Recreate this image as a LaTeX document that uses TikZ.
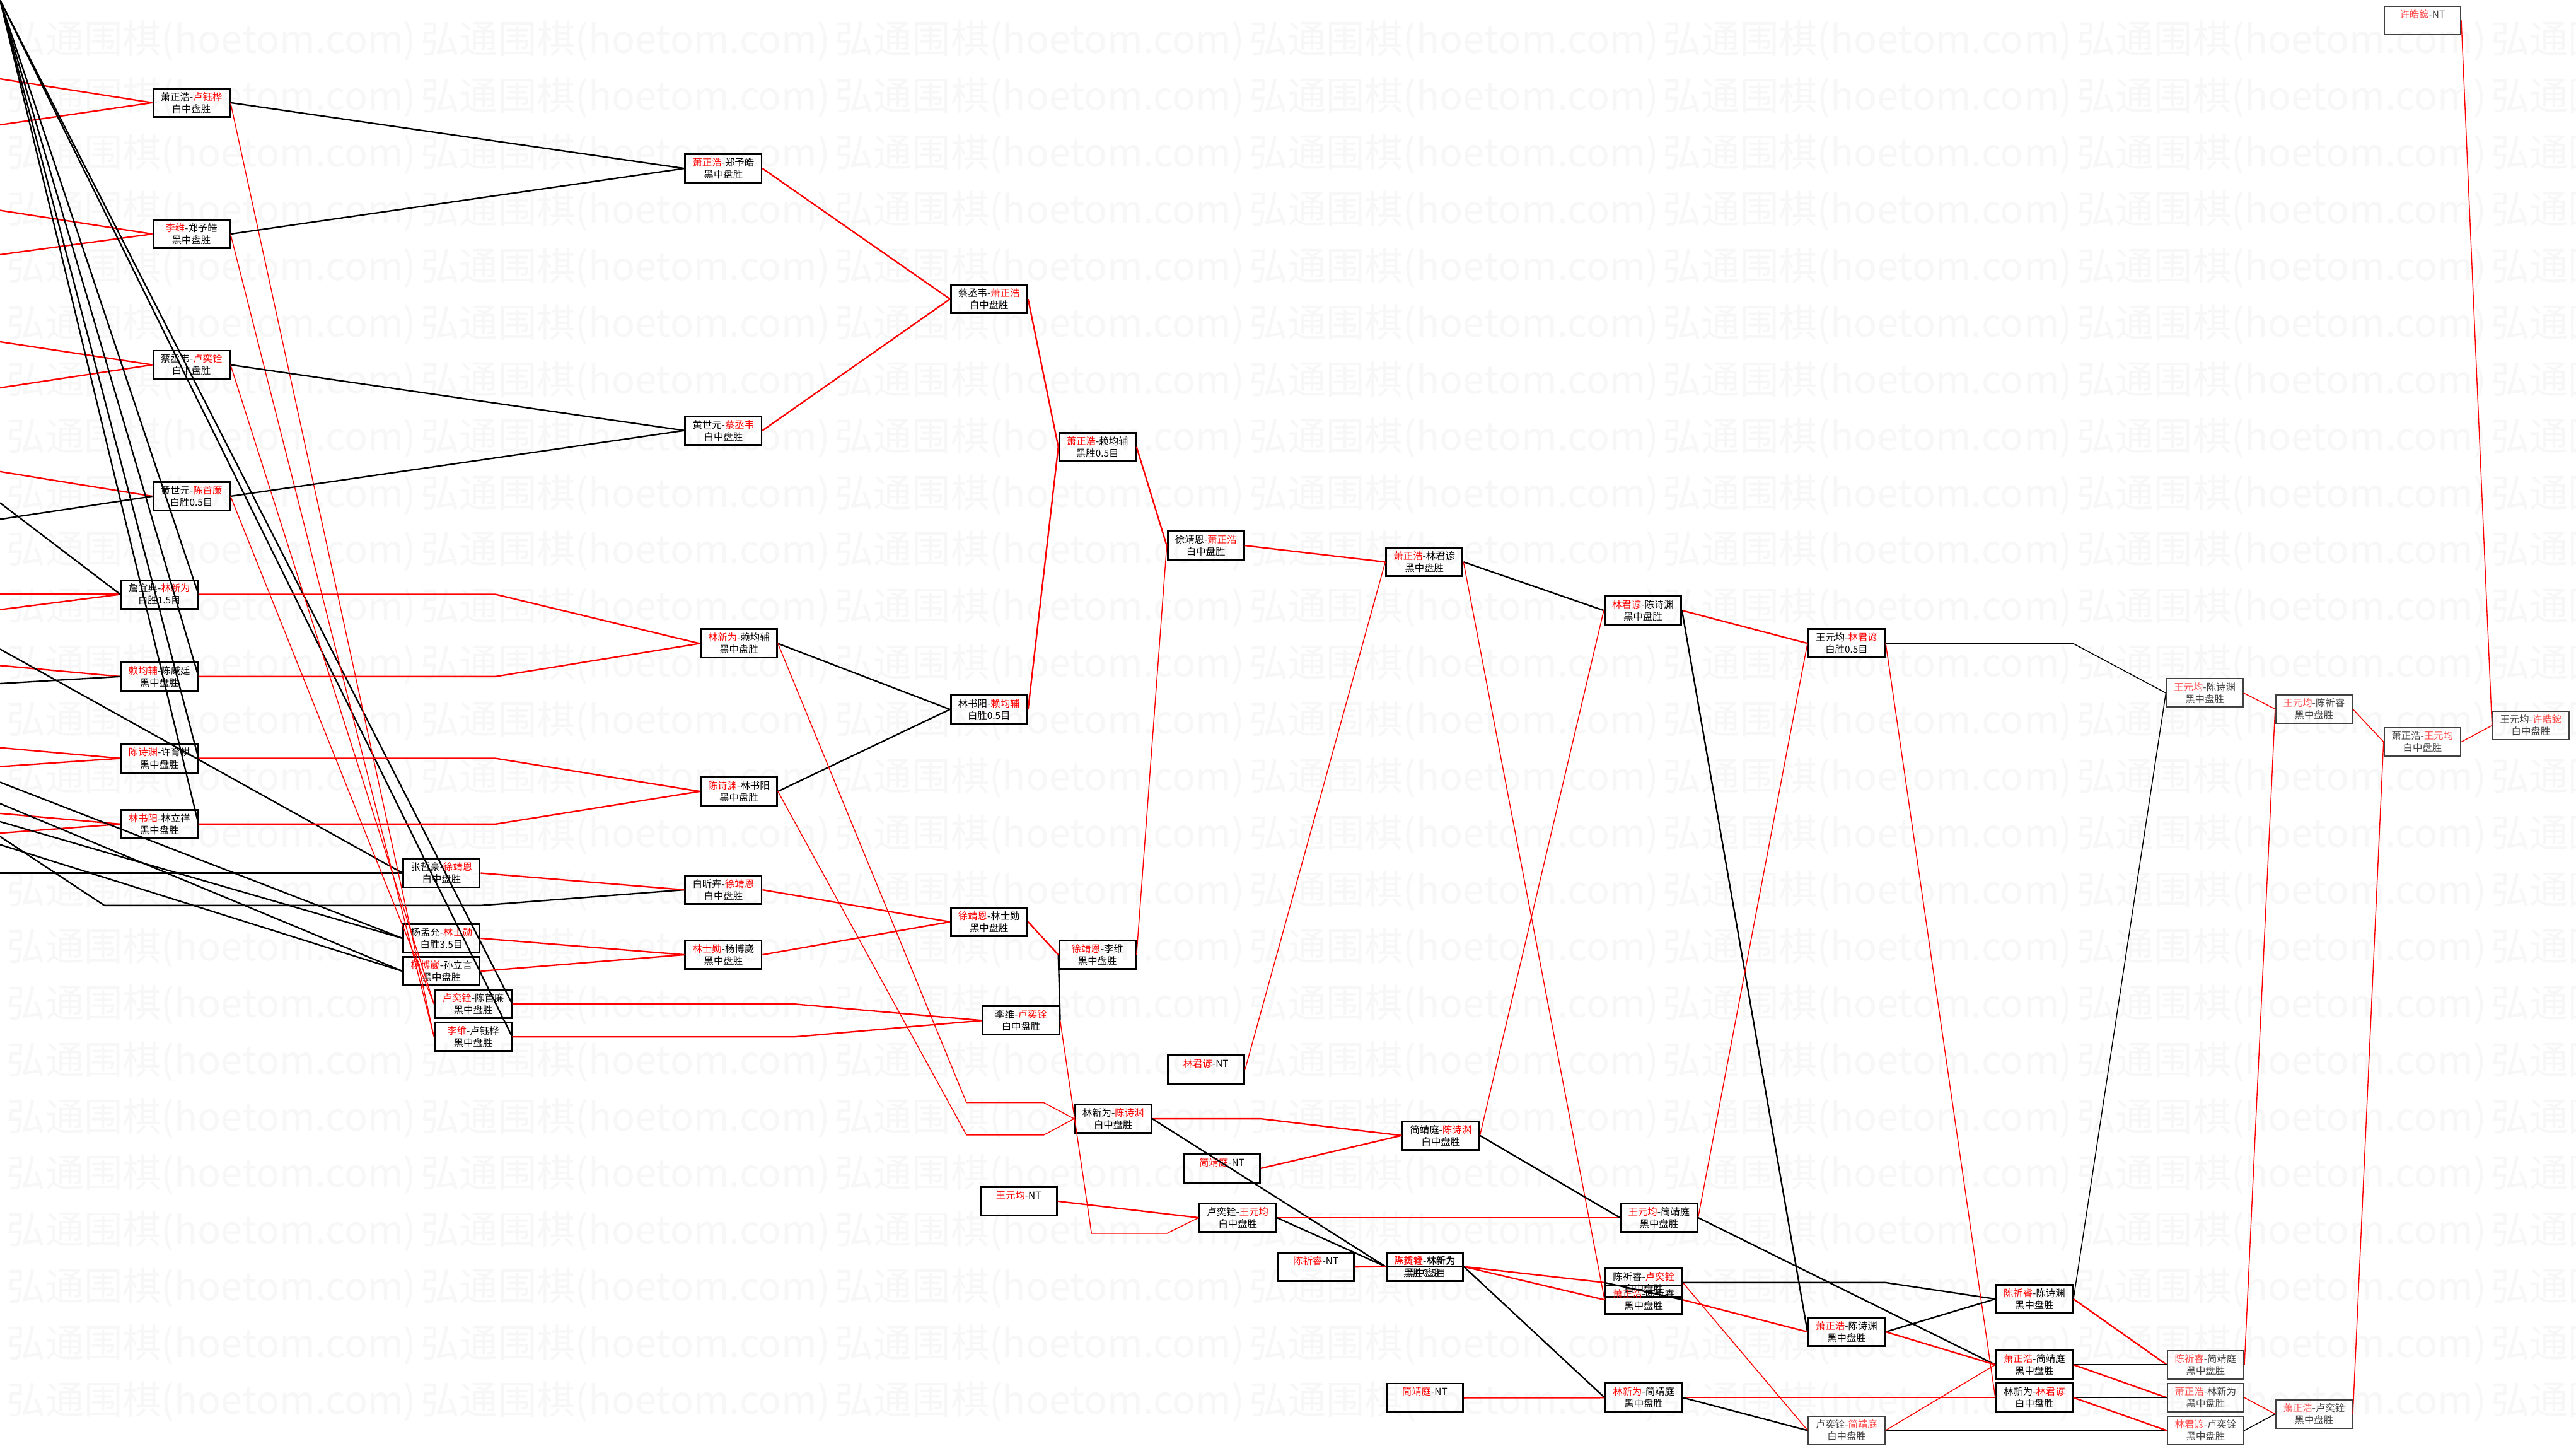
\documentclass[tikz,border=0pt]{standalone}
\usepackage{fontspec}
\newfontfamily\cjk{Noto Sans CJK SC}
\newcommand\rn[1]{\textcolor{red}{#1}}
\newcommand\rl[1]{\textcolor{red!70}{#1}}
\tikzset{
  mbox/.style={draw=black, line width=1.1pt, minimum width=46.5pt, minimum height=17.3pt,
    inner sep=0pt, align=center, font=\cjk\fontsize{5.9}{7.3}\selectfont},
  lbox/.style={mbox, draw=black!75, line width=0.8pt, text=black!75},
  wl/.style={draw=red, line width=0.9pt},
  ll/.style={draw=black, line width=0.9pt},
  tl/.style={line width=0.55pt},
  wm/.style={anchor=west, inner sep=0pt, text=black!3, font=\cjk\fontsize{23.5}{24}\selectfont},
}
\begin{document}
\begin{tikzpicture}[x=1pt,y=-1pt]
\useasboundingbox (0,0) rectangle (1568,883);
\clip (0,0) rectangle (1568,883);
\fill[white] (0,0) rectangle (1568,883);
% watermark
\foreach \i in {0,...,6}{\foreach \j in {0,...,24}{
  \node[wm] (wm-\i-\j) at ({4+252*\i},{25+34.5*\j}) {弘通围棋(hoetom.com)};}}
% ---------------- nodes
\node[mbox] (A1) at (116.5,62.5) {萧正浩-\rn{卢钰桦}\\白中盘胜};
\node[mbox] (A2) at (116.5,142.4) {\rn{李维}-郑予皓\\黑中盘胜};
\node[mbox] (A3) at (116.5,222) {蔡丞韦-\rn{卢奕铨}\\白中盘胜};
\node[mbox] (A4) at (116.5,302) {黄世元-\rn{陈首廉}\\白胜0.5目};
\node[mbox] (B1) at (97,361.7) {詹宜典-\rn{林新为}\\白胜1.5目};
\node[mbox] (B2) at (97,411.7) {\rn{赖均辅}-陈威廷\\黑中盘胜};
\node[mbox] (B3) at (97,461.5) {\rn{陈诗渊}-许育祺\\黑中盘胜};
\node[mbox] (B4) at (97,501.5) {\rn{林书阳}-林立祥\\黑中盘胜};
\node[mbox] (C1) at (268.8,531.3) {张哲豪-\rn{徐靖恩}\\白中盘胜};
\node[mbox] (C2) at (268.8,571) {杨孟允-\rn{林士勋}\\白胜3.5目};
\node[mbox] (C3) at (268.8,591) {\rn{杨博崴}-孙立言\\黑中盘胜};
\node[mbox] (C4) at (288,611) {\rn{卢奕铨}-陈首廉\\黑中盘胜};
\node[mbox] (C5) at (288,631) {\rn{李维}-卢钰桦\\黑中盘胜};
\node[mbox] (D1) at (440.3,102.5) {\rn{萧正浩}-郑予皓\\黑中盘胜};
\node[mbox] (D2) at (440.3,262) {黄世元-\rn{蔡丞韦}\\白中盘胜};
\node[mbox] (D3) at (449.7,391.6) {\rn{林新为}-赖均辅\\黑中盘胜};
\node[mbox] (D4) at (449.7,481.6) {\rn{陈诗渊}-林书阳\\黑中盘胜};
\node[mbox] (D5) at (440.3,541.5) {白昕卉-\rn{徐靖恩}\\白中盘胜};
\node[mbox] (D6) at (440.3,581) {\rn{林士勋}-杨博崴\\黑中盘胜};
\node[mbox] (E1) at (602,182) {蔡丞韦-\rn{萧正浩}\\白中盘胜};
\node[mbox] (E2) at (602,431.7) {林书阳-\rn{赖均辅}\\白胜0.5目};
\node[mbox] (E3) at (602,561) {\rn{徐靖恩}-林士勋\\黑中盘胜};
\node[mbox] (E4) at (621.5,621) {李维-\rn{卢奕铨}\\白中盘胜};
\node[mbox] (F1) at (668,272) {\rn{萧正浩}-赖均辅\\黑胜0.5目};
\node[mbox] (F2) at (668,581) {\rn{徐靖恩}-李维\\黑中盘胜};
\node[mbox] (F3) at (677.6,680.8) {林新为-\rn{陈诗渊}\\白中盘胜};
\node[mbox] (F4) at (620,731) {\rn{王元均}-NT\\\phantom{白}};
\node[mbox] (G1) at (734,332) {徐靖恩-\rn{萧正浩}\\白中盘胜};
\node[mbox] (G2) at (734,651) {\rn{林君谚}-NT\\\phantom{白}};
\node[mbox] (G3) at (743.7,711) {\rn{简靖庭}-NT\\\phantom{白}};
\node[mbox] (G4) at (753.4,741) {卢奕铨-\rn{王元均}\\白中盘胜};
\node[mbox] (G5) at (801,771) {\rn{陈祈睿}-NT\\\phantom{白}};
\node[mbox] (H1) at (867,342) {\rn{萧正浩}-林君谚\\黑中盘胜};
\node[mbox] (H2) at (877,691) {简靖庭-\rn{陈诗渊}\\白中盘胜};
\node[mbox] (H3a) at (867.2,770.8) {\rn{陈祈睿}-林新为\\黑中盘胜};
\node[mbox] (H3b) at (867.2,770.8) {\rn{卢奕铨}-林新为\\黑胜0.5目};
\node[mbox] (H4) at (867.2,850.6) {\rn{简靖庭}-NT\\\phantom{白}};
\node[mbox] (I1) at (1000,371.5) {\rn{林君谚}-陈诗渊\\黑中盘胜};
\node[mbox] (I2) at (1009.8,741) {\rn{王元均}-简靖庭\\黑中盘胜};
\node[mbox] (I3) at (1000.5,780.5) {陈祈睿-\rn{卢奕铨}\\白中盘胜};
\node[mbox] (I4) at (1000.5,791) {\rn{萧正浩}-陈祈睿\\黑中盘胜};
\node[mbox] (I5) at (1000.5,850.5) {\rn{林新为}-简靖庭\\黑中盘胜};
\node[mbox] (J1) at (1124,391.5) {王元均-\rn{林君谚}\\白胜0.5目};
\node[mbox] (J2) at (1124,810.5) {\rn{萧正浩}-陈诗渊\\黑中盘胜};
\node[lbox] (J3) at (1124,870.5) {卢奕铨-\rl{简靖庭}\\白中盘胜};
\node[mbox] (K1) at (1238.3,790.5) {\rn{陈祈睿}-陈诗渊\\黑中盘胜};
\node[mbox] (K2) at (1238.3,830.5) {\rn{萧正浩}-简靖庭\\黑中盘胜};
\node[mbox] (K3) at (1238.3,850.5) {林新为-\rn{林君谚}\\白中盘胜};
\node[lbox] (L1) at (1342,421.7) {\rl{王元均}-陈诗渊\\黑中盘胜};
\node[lbox] (L2) at (1342.5,830.5) {\rl{陈祈睿}-简靖庭\\黑中盘胜};
\node[lbox] (L3) at (1342.5,850.5) {\rl{萧正浩}-林新为\\黑中盘胜};
\node[lbox] (L4) at (1342.5,870.5) {\rl{林君谚}-卢奕铨\\黑中盘胜};
\node[lbox] (M1) at (1408.5,431.5) {\rl{王元均}-陈祈睿\\黑中盘胜};
\node[lbox] (M2) at (1408.5,860.5) {\rl{萧正浩}-卢奕铨\\黑中盘胜};
\node[lbox] (N1) at (1474.5,451.5) {萧正浩-\rl{王元均}\\白中盘胜};
\node[lbox] (O1) at (1540.5,441.5) {王元均-\rl{许皓鋐}\\白中盘胜};
\node[lbox] (NT2) at (1474.5,12.4) {\rl{许皓鋐}-NT\\\phantom{白}};
% ---------------- free ends at the left edge
\coordinate (fan) at (0,0);
\coordinate (r48) at (0,48);   \coordinate (r76) at (0,76);
\coordinate (r128) at (0,128); \coordinate (r155) at (0,155);
\coordinate (r208) at (0,208); \coordinate (r236) at (0,236);
\coordinate (r287) at (0,287);
\coordinate (r362) at (0,361.7); \coordinate (r371) at (0,371);
\coordinate (r405) at (0,405);
\coordinate (r455) at (0,455); \coordinate (r466) at (0,466.5);
\coordinate (r495) at (0,495); \coordinate (r507) at (0,507);
\coordinate (k306) at (0,306); \coordinate (k316) at (0,316);
\coordinate (k395) at (0,395); \coordinate (k416) at (0,416);
\coordinate (k476) at (0,476); \coordinate (k489) at (0,489);
\coordinate (k500) at (0,500); \coordinate (k514) at (0,514);
\coordinate (k509) at (0,509); \coordinate (k531) at (0,531.3);
% ---------------- connectors from the left edge
\draw[wl] (r48) -- (A1.west); \draw[wl] (r76) -- (A1.west);
\draw[wl] (r128) -- (A2.west); \draw[wl] (r155) -- (A2.west);
\draw[wl] (r208) -- (A3.west); \draw[wl] (r236) -- (A3.west);
\draw[wl] (r287) -- (A4.west); \draw[ll] (k316) -- (A4.west);
\draw[wl] (r362) -- (B1.west); \draw[wl] (r371) -- (B1.west); \draw[ll] (k306) -- (B1.west);
\draw[wl] (r405) -- (B2.west); \draw[ll] (k416) -- (B2.west);
\draw[wl] (r455) -- (B3.west); \draw[wl] (r466) -- (B3.west);
\draw[wl] (r495) -- (B4.west); \draw[wl] (r507) -- (B4.west);
\draw[ll] (k395) -- (C1.west); \draw[ll] (k531) -- (C1.west);
\draw[ll] (k476) -- (C2.west); \draw[ll] (k500) -- (C2.west);
\draw[ll] (k489) -- (C3.west); \draw[ll] (k514) -- (C3.west);
\draw[ll] (k509) -- (63.5,551) -- (292.6,551) -- (D5.west);
\draw[ll] (B1.east) -- (fan); \draw[ll] (B2.east) -- (fan);
\draw[ll] (B3.east) -- (fan); \draw[ll] (B4.east) -- (fan);
\draw[ll] (C4.east) -- (fan); \draw[ll] (C5.east) -- (fan);
% ---------------- round connectors
\draw[wl,tl] (A1.east) -- (C5.west); \draw[wl,tl] (A2.east) -- (C5.west);
\draw[wl,tl] (A3.east) -- (C4.west); \draw[wl,tl] (A4.east) -- (C4.west);
\draw[ll] (A1.east) -- (D1.west); \draw[ll] (A2.east) -- (D1.west);
\draw[ll] (A3.east) -- (D2.west); \draw[ll] (A4.east) -- (D2.west);
\draw[wl] (B1.east) -- (301.6,361.7) -- (D3.west);
\draw[wl] (B2.east) -- (301.6,411.7) -- (D3.west);
\draw[wl] (B3.east) -- (301.6,461.5) -- (D4.west);
\draw[wl] (B4.east) -- (301.6,501.5) -- (D4.west);
\draw[wl] (C1.east) -- (D5.west);
\draw[wl] (C2.east) -- (D6.west); \draw[wl] (C3.east) -- (D6.west);
\draw[wl] (C4.east) -- (483.4,611) -- (E4.west);
\draw[wl] (C5.east) -- (483.4,631) -- (E4.west);
\draw[wl] (D1.east) -- (E1.west); \draw[wl] (D2.east) -- (E1.west);
\draw[ll] (D3.east) -- (E2.west); \draw[ll] (D4.east) -- (E2.west);
\draw[wl,tl] (D3.east) -- (588.3,671) -- (635.3,671) -- (F3.west);
\draw[wl,tl] (D4.east) -- (588.3,690.7) -- (635.3,690.7) -- (F3.west);
\draw[wl] (D5.east) -- (E3.west); \draw[wl] (D6.east) -- (E3.west);
\draw[wl] (E1.east) -- (F1.west); \draw[wl] (E2.east) -- (F1.west);
\draw[wl] (E3.east) -- (F2.west);
\draw[ll] (E4.east) -- (F2.west);
\draw[wl,tl] (E4.east) -- (664.4,750.6) -- (710.2,750.6) -- (G4.west);
\draw[wl] (F1.east) -- (G1.west); \draw[wl,tl] (F2.east) -- (G1.west);
\draw[wl] (F3.east) -- (767.3,680.8) -- (H2.west);
\draw[ll] (F3.east) -- (H3a.west);
\draw[wl] (F4.east) -- (G4.west);
\draw[wl] (G1.east) -- (H1.west); \draw[wl,tl] (G2.east) -- (H1.west);
\draw[wl] (G3.east) -- (H2.west);
\draw[wl] (G4.east) -- (I2.west); \draw[ll] (G4.east) -- (H3b.west);
\draw[wl] (G5.east) -- (H3a.west);
\draw[ll] (H1.east) -- (I1.west); \draw[wl,tl] (H1.east) -- (I4.west);
\draw[wl,tl] (H2.east) -- (I1.west); \draw[ll] (H2.east) -- (I2.west);
\draw[ll] (H3a.east) -- (H3b.west);
\draw[wl] (H3a.east) -- (I4.west); \draw[wl] (H3b.east) -- (I3.west);
\draw[ll] (H3b.east) -- (I5.west);
\draw[wl] (H4.east) -- (I5.west);
\draw[wl] (I1.east) -- (J1.west); \draw[ll] (I1.east) -- (J2.west);
\draw[wl,tl] (I2.east) -- (J1.west); \draw[ll] (I2.east) -- (K2.west);
\draw[ll] (I3.east) -- (1147.7,780.5) -- (K1.west); \draw[wl,tl] (I3.east) -- (J3.west);
\draw[wl] (I4.east) -- (J2.west); \draw[ll] (I4.east) -- (I3.west);
\draw[wl] (I5.east) -- (K3.west); \draw[ll] (I5.east) -- (J3.west);
\draw[ll] (J1.east) -- (1214.6,391.5);
\draw[ll,tl] (1214.6,391.5) -- (1261.7,391.5) -- (L1.west);
\draw[wl,tl] (J1.east) -- (K3.west);
\draw[ll] (J2.east) -- (K1.west); \draw[wl] (J2.east) -- (K2.west);
\draw[ll,tl] (J3.east) -- (L4.west); \draw[wl,tl] (J3.east) -- (K2.west);
\draw[ll,tl] (K1.east) -- (L1.west); \draw[wl] (K1.east) -- (L2.west);
\draw[ll] (K2.east) -- (L2.west); \draw[wl] (K2.east) -- (L3.west);
\draw[ll] (K3.east) -- (L3.west); \draw[wl] (K3.east) -- (L4.west);
\draw[wl,tl] (L1.east) -- (M1.west); \draw[wl,tl] (L2.east) -- (M1.west);
\draw[wl,tl] (L3.east) -- (M2.west); \draw[ll,tl] (L4.east) -- (M2.west);
\draw[wl,tl] (M1.east) -- (N1.west); \draw[wl,tl] (M2.east) -- (N1.west);
\draw[wl,tl] (N1.east) -- (O1.west); \draw[wl,tl] (NT2.east) -- (O1.west);
\end{tikzpicture}
\end{document}
